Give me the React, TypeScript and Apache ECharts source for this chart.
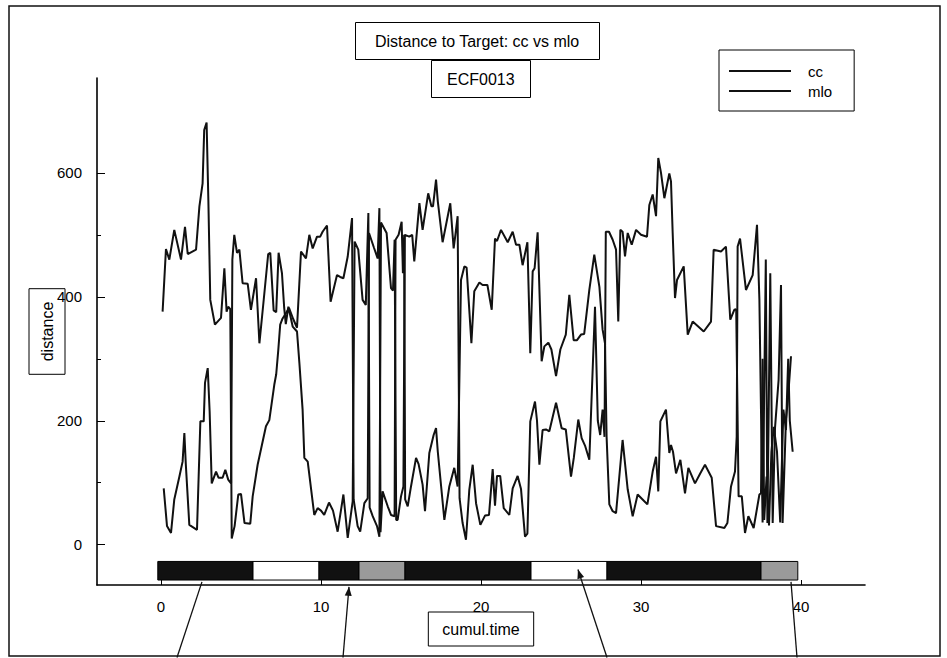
import React, { useEffect, useRef } from 'react';
import * as echarts from 'echarts';

// ---- data ----
const ccTime = [
  0.1, 0.31, 0.52, 0.83, 1.25, 1.5, 1.67, 2.19, 2.4, 2.6, 2.7, 2.85, 2.96, 3.08, 3.37, 3.75, 3.96, 4.1, 4.2, 4.33,
  4.42, 4.6, 4.83, 5.0, 5.22, 5.58, 5.73, 6.04, 6.3, 6.56, 6.77, 7.08, 7.2, 7.33, 7.45, 7.6, 7.75, 8.0, 8.25, 8.5,
  8.75, 9.06, 9.27, 9.48, 9.75, 9.95, 10.1, 10.375, 10.6, 11.0, 11.2, 11.4, 11.67, 11.94,
  12.04, 12.29, 12.45, 12.71, 12.92,
  13.0, 13.3, 13.54, 13.65,
  13.72, 13.85, 14.17, 14.375, 14.6,
  14.66, 14.85, 15.04, 15.12, 15.2,
  15.26, 15.42, 15.625, 15.94, 16.1, 16.35, 16.5, 16.77, 17.04, 17.19, 17.3, 17.71, 18.02, 18.33, 18.54,
  18.75, 18.96, 19.1, 19.4, 19.58, 19.9, 20.1, 20.4, 20.67, 20.875, 21.0, 21.25, 21.67, 21.98, 22.19, 22.4, 22.6, 22.9,
  23.08, 23.23, 23.35, 23.54, 23.79, 23.96, 24.21, 24.4, 24.69, 24.96, 25.3, 25.52, 25.79, 26.0, 26.25, 26.45, 26.77,
  27.08, 27.4, 27.6, 27.75,
  27.85, 28.02, 28.23, 28.44, 28.85, 29.17, 29.48, 29.79, 30.1, 30.4, 30.73, 30.94, 31.08, 31.21, 31.56, 31.77, 31.875,
  32.0, 32.19, 32.46, 32.75, 32.96, 33.375, 33.7, 34.0, 34.42, 34.69, 35.21, 35.4, 35.625, 35.875, 35.98,
  36.04, 36.19, 36.56, 36.98, 37.25,
  37.4, 37.6, 37.8, 37.9, 38.08, 38.23, 38.375, 38.6, 38.75, 38.85, 39.06, 39.2, 39.375,
];
const ccDistance = [
  376, 477, 460, 508, 460, 513, 469, 476, 546, 583, 669, 681, 556, 395, 355, 366, 446, 376, 384, 380,
  10, 30, 81, 82, 35, 34, 78, 129, 160, 191, 201, 258, 275, 314, 355, 365, 371, 382, 365, 350,
  473, 462, 500, 478, 497, 497, 505, 515, 392, 435, 432, 430, 465, 527,
  73, 30, 21, 67, 75,
  503, 480, 462, 543,
  20, 86, 62, 48, 46,
  492, 500, 521, 438, 500,
  73, 62, 94, 140, 130, 97, 54, 148, 177, 188, 150, 40, 94, 124, 94,
  427, 449, 447, 325, 409, 423, 419, 419, 379, 494, 490, 508, 488, 505, 484, 484, 451, 488,
  309, 441, 446, 504, 296, 320, 326, 315, 272, 315, 339, 403, 330, 330, 339, 340, 411,
  468, 416, 347, 325,
  174, 65, 54, 51, 169, 89, 46, 81, 73, 65, 118, 142, 86, 199, 218, 148, 161,
  150, 115, 137, 83, 124, 99, 115, 129, 108, 30, 27, 35, 94, 118, 174,
  481, 494, 411, 435, 516,
  395, 36, 460, 35, 438, 35, 188, 266, 419, 35, 202, 240, 304,
];

const mloTime = [
  0.17, 0.375, 0.625, 0.83, 1.15, 1.35, 1.46, 1.55, 1.77, 2.25, 2.46, 2.67, 2.75, 2.92, 3.04, 3.17, 3.44, 3.6, 3.85, 4.02, 4.2, 4.38,
  4.46, 4.58, 4.75, 4.9, 5.1, 5.42, 5.62, 5.94, 6.15, 6.4, 6.7, 6.83, 7.04, 7.2, 7.35, 7.56, 7.7, 7.8, 7.96, 8.23, 8.5,
  8.65, 8.85, 8.96, 9.17, 9.58, 9.79, 10.0, 10.2, 10.5, 10.75, 11.04, 11.4, 11.67, 11.98,
  12.1, 12.33, 12.6, 12.8, 12.96,
  13.04, 13.23, 13.5, 13.65,
  13.75, 14.1, 14.375, 14.5, 14.6,
  14.7, 14.79, 15.0, 15.15,
  15.24, 15.52, 15.7, 15.83, 16.15, 16.35, 16.7, 16.9, 17.0, 17.19, 17.3, 17.6, 18.08, 18.29, 18.4, 18.54,
  18.66, 18.85, 19.06, 19.27, 19.48, 19.69, 19.96, 20.25, 20.5, 20.73, 20.875, 21.0, 21.2, 21.42, 21.77, 21.98, 22.29, 22.5,
  22.75, 22.9, 23.08, 23.375, 23.5, 23.65, 23.85, 24.06, 24.27, 24.69, 25.04, 25.3, 25.625, 25.8, 26.08, 26.29, 26.5, 26.77,
  27.125, 27.3, 27.45, 27.6, 27.72,
  27.8, 28.0, 28.23, 28.44, 28.58, 28.71, 28.85, 29.0, 29.17, 29.42, 29.69, 30.0, 30.375, 30.52, 30.73, 30.94, 31.08, 31.25,
  31.46, 31.77, 31.875, 31.98, 32.125, 32.25, 32.67, 32.92, 33.23, 33.92, 34.375, 34.54, 35.0, 35.31, 35.58, 35.83, 35.95,
  36.1, 36.3, 36.5, 36.71, 37.04, 37.4,
  37.5, 37.6, 37.7, 37.85, 38.0, 38.15, 38.3, 38.5, 38.7, 38.9, 39.06, 39.2, 39.3, 39.48,
];
const mloDistance = [
  91, 30, 19, 73, 110, 134, 180, 130, 32, 24, 199, 199, 261, 285, 215, 99, 118, 108, 108, 121, 105, 99,
  460, 500, 471, 476, 422, 421, 379, 430, 325, 390, 469, 471, 378, 375, 471, 438, 382, 356, 384, 352, 344,
  293, 218, 140, 134, 48, 59, 55, 48, 68, 55, 21, 81, 11, 70,
  489, 476, 395, 387, 535,
  60, 46, 30, 13,
  520, 503, 414, 410, 492,
  40, 40, 78, 94,
  500, 497, 500, 457, 551, 508, 567, 546, 546, 589, 554, 488, 551, 478, 500, 530,
  75, 35, 8, 89, 129, 67, 32, 47, 48, 122, 63, 111, 111, 59, 48, 91, 111, 90,
  13, 18, 199, 231, 200, 129, 185, 186, 183, 229, 188, 186, 110, 140, 202, 172, 160, 137,
  384, 200, 177, 218, 174,
  505, 505, 492, 476, 360, 508, 505, 465, 503, 484, 508, 500, 497, 548, 565, 530, 624, 600,
  559, 599, 586, 503, 398, 427, 449, 339, 360, 344, 360, 476, 473, 481, 363, 379, 380,
  78, 78, 19, 46, 27, 81,
  83, 300, 40, 110, 31, 150, 190, 150, 36, 218, 185, 300, 200, 150,
];

// axis ticks
const xTicks = [0, 10, 20, 30, 40];
const yTicks = [0, 200, 400, 600];
const yMinorTicks = [100, 300, 500];

// state bar under the curves (cumul.time intervals; 0 = black, 1 = white, 2 = grey)
const stateStart = [-0.2, 5.75, 9.875, 12.375, 15.25, 23.125, 27.875, 37.5];
const stateEnd = [5.75, 9.875, 12.375, 15.25, 23.125, 27.875, 37.5, 39.8];
const stateKind = [0, 1, 0, 2, 0, 1, 0, 2];

// annotation arrows (cumul.time, distance)
const arrowFromTime = [1.0, 11.375, 27.875, 39.75];
const arrowFromDist = [-182, -182, -182, -182];
const arrowToTime = [2.56, 11.75, 26.06, 39.375];
const arrowToDist = [-60, -68, -40, -60];
const arrowHasHead = [false, true, true, false];

// ---- layout / style constants ----
const FONT = '"Liberation Sans", Arial, Helvetica, sans-serif';
const INK = '#111111';
const BAR_TOP = -27;
const BAR_BOTTOM = -57;
const STATE_FILL = ['#111111', '#ffffff', '#9a9a9a'];

export default function App() {
  const ref = useRef<HTMLDivElement>(null);

  useEffect(() => {
    if (!ref.current) return;
    const chart = echarts.init(ref.current, null, { renderer: 'svg' });
    const zip = (t: number[], v: number[]) => t.map((x, i) => [x, v[i]]);

    const option: any = {
      animation: false,
      backgroundColor: '#ffffff',
      textStyle: { fontFamily: FONT, color: '#000' },
      title: [
        {
          text: 'Distance to Target: cc vs mlo',
          left: 355,
          top: 22,
          padding: [11, 20],
          borderColor: '#000',
          borderWidth: 1,
          textStyle: { fontSize: 16, fontWeight: 'normal', color: '#000', fontFamily: FONT },
        },
        {
          text: 'ECF0013',
          left: 431,
          top: 60,
          padding: [11, 16],
          borderColor: '#000',
          borderWidth: 1,
          textStyle: { fontSize: 16, fontWeight: 'normal', color: '#000', fontFamily: FONT },
        },
      ],
      legend: {
        data: ['cc', 'mlo'],
        left: 719,
        top: 50,
        orient: 'vertical',
        icon: 'rect',
        padding: [13, 22, 12, 10],
        itemGap: 4,
        itemWidth: 62,
        itemHeight: 2,
        borderColor: '#000',
        borderWidth: 1,
        selectedMode: false,
        textStyle: { fontSize: 15, color: '#000', fontFamily: FONT, padding: [0, 0, 0, 12], lineHeight: 16 },
      },
      grid: { left: 97, right: 82, top: 78, bottom: 73, containLabel: false },
      xAxis: {
        type: 'value',
        min: -4,
        max: 44,
        position: 'bottom',
        name: 'cumul.time',
        nameLocation: 'middle',
        nameGap: 27,
        nameMoveOverlap: false,
        nameTextStyle: {
          fontSize: 16,
          color: '#000',
          fontFamily: FONT,
          borderColor: '#000',
          borderWidth: 1,
          padding: [9, 14],
        },
        axisLine: { show: true, onZero: false, lineStyle: { color: '#000', width: 1.6 } },
        axisTick: { show: true, inside: true, length: 5, customValues: xTicks, lineStyle: { color: '#000' } },
        axisLabel: { customValues: xTicks, margin: 14, fontSize: 15, color: '#000', fontFamily: FONT },
        splitLine: { show: false },
      },
      yAxis: [
        {
          type: 'value',
          min: -65,
          max: 753,
          position: 'left',
          name: 'distance',
          nameLocation: 'middle',
          nameRotate: 90,
          nameGap: 32,
          nameMoveOverlap: false,
          nameTextStyle: {
            fontSize: 16,
            color: '#000',
            fontFamily: FONT,
            borderColor: '#000',
            borderWidth: 1,
            padding: [10, 13],
          },
          axisLine: { show: true, onZero: false, lineStyle: { color: '#000', width: 1.6 } },
          axisTick: { show: true, inside: true, length: 8, customValues: yTicks, lineStyle: { color: '#000' } },
          axisLabel: { customValues: yTicks, margin: 15, fontSize: 15, color: '#000', fontFamily: FONT },
          splitLine: { show: false },
        },
        {
          type: 'value',
          min: -65,
          max: 753,
          position: 'left',
          axisLine: { show: false, onZero: false },
          axisTick: { show: true, inside: true, length: 4, customValues: yMinorTicks, lineStyle: { color: '#000' } },
          axisLabel: { show: false },
          splitLine: { show: false },
        },
      ],
      series: [
        {
          name: 'cc',
          type: 'line',
          data: zip(ccTime, ccDistance),
          symbol: 'none',
          lineStyle: { color: INK, width: 2 },
          itemStyle: { color: INK },
          z: 3,
        },
        {
          name: 'mlo',
          type: 'line',
          data: zip(mloTime, mloDistance),
          symbol: 'none',
          lineStyle: { color: INK, width: 2 },
          itemStyle: { color: INK },
          z: 3,
        },
        {
          name: 'state',
          type: 'custom',
          data: stateStart.map((s, i) => [s, stateEnd[i], stateKind[i]]),
          encode: { x: [0, 1], y: 2 },
          renderItem: (params: any, api: any) => {
            const p1 = api.coord([api.value(0), BAR_TOP]);
            const p2 = api.coord([api.value(1), BAR_BOTTOM]);
            return {
              type: 'rect',
              shape: { x: p1[0], y: p1[1], width: p2[0] - p1[0], height: p2[1] - p1[1] },
              style: { fill: STATE_FILL[api.value(2)], stroke: '#000', lineWidth: 1 },
            };
          },
          z: 2,
        },
      ],
    };

    chart.setOption(option);

    const elements: any[] = [
      {
        type: 'rect',
        shape: { x: 9, y: 6, width: 931, height: 650 },
        style: { fill: 'none', stroke: '#111', lineWidth: 1.5 },
        silent: true,
      },
    ];
    for (let i = 0; i < arrowFromTime.length; i++) {
      const p0 = chart.convertToPixel({ xAxisIndex: 0, yAxisIndex: 0 }, [arrowFromTime[i], arrowFromDist[i]]) as number[];
      const p1 = chart.convertToPixel({ xAxisIndex: 0, yAxisIndex: 0 }, [arrowToTime[i], arrowToDist[i]]) as number[];
      elements.push({
        type: 'line',
        shape: { x1: p0[0], y1: p0[1], x2: p1[0], y2: p1[1] },
        style: { stroke: INK, lineWidth: 1.3 },
        silent: true,
        z: 10,
      });
      if (arrowHasHead[i]) {
        const dx = p1[0] - p0[0];
        const dy = p1[1] - p0[1];
        const len = Math.sqrt(dx * dx + dy * dy);
        const ux = dx / len;
        const uy = dy / len;
        const hl = 9;
        const hw = 3.5;
        const bx = p1[0] - ux * hl;
        const by = p1[1] - uy * hl;
        elements.push({
          type: 'polygon',
          shape: {
            points: [
              [p1[0], p1[1]],
              [bx - uy * hw, by + ux * hw],
              [bx + uy * hw, by - ux * hw],
            ],
          },
          style: { fill: INK },
          silent: true,
          z: 10,
        });
      }
    }
    chart.setOption({ graphic: elements });

    return () => chart.dispose();
  }, []);

  return (
    <div
      ref={ref}
      style={{ position: 'absolute', left: 0, top: 0, width: 947, height: 658, background: '#fff' }}
    />
  );
}
